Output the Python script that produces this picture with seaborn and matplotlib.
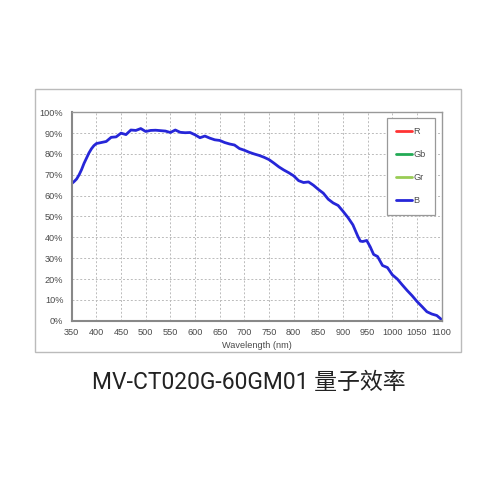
import matplotlib
matplotlib.use("Agg")
import matplotlib.pyplot as plt
from matplotlib.lines import Line2D
from matplotlib.patches import Rectangle
from matplotlib.ticker import FuncFormatter
import seaborn as sns
import pandas as pd

wavelength = [350, 355, 360, 365, 370, 375, 380, 385, 390, 395, 400, 410, 420, 430, 440,
              450, 460, 470, 480, 490, 500, 510, 520, 530, 540, 550, 560, 570, 580, 590,
              600, 610, 620, 630, 640, 650, 660, 670, 680, 690, 700, 710, 720, 730, 740,
              750, 760, 770, 780, 790, 800, 810, 820, 830, 840, 850, 860, 870, 880, 890,
              900, 910, 920, 930, 935, 940, 948, 955, 962, 970, 980, 990, 1000, 1010,
              1020, 1030, 1040, 1050, 1060, 1070, 1080, 1090, 1100]
qe_b = [65.8, 66.8, 68.0, 70.0, 72.5, 75.5, 78.0, 80.5, 82.5, 84.0, 85.0, 85.5, 86.0, 88.0, 88.2,
        90.0, 89.3, 91.5, 91.3, 92.2, 90.8, 91.3, 91.4, 91.2, 91.0, 90.3, 91.5, 90.4, 90.2, 90.3,
        89.2, 87.8, 88.6, 87.6, 86.8, 86.5, 85.5, 84.8, 84.3, 82.6, 81.8, 80.8, 80.0, 79.3, 78.4,
        77.3, 75.6, 73.8, 72.3, 71.0, 69.5, 67.2, 66.3, 66.6, 65.0, 63.0, 61.2, 58.3, 56.5, 55.3,
        52.5, 49.5, 46.0, 40.5, 38.2, 38.0, 38.5, 35.5, 31.8, 30.8, 26.5, 25.5, 22.0, 20.0,
        17.2, 14.5, 12.0, 9.2, 6.8, 4.3, 3.2, 2.5, 0.5]

legend_labels = ["R", "Gb", "Gr", "B"]
legend_colors = ["#ff3333", "#22aa55", "#99cc55", "#2626d8"]
x_ticks = list(range(350, 1101, 50))
y_ticks = list(range(0, 101, 10))
title = "MV-CT020G-60GM01 量子效率"
x_label = "Wavelength (nm)"

sns.set_theme(style="white")
plt.rcParams['font.family'] = ['Liberation Sans', 'DejaVu Sans']

fig = plt.figure(figsize=(5, 5), dpi=100)
fig.patch.set_facecolor("white")
ax = fig.add_axes([71.7 / 500, 1 - 320.7 / 500, 370 / 500, 208.4 / 500])

df = pd.DataFrame({"wavelength": wavelength, "qe": qe_b})
sns.lineplot(data=df, x="wavelength", y="qe", ax=ax, color=legend_colors[3], lw=2.0)

ax.set_xlim(350, 1100)
ax.set_ylim(0, 100)
ax.set_xticks(x_ticks)
ax.set_yticks(y_ticks)
ax.yaxis.set_major_formatter(FuncFormatter(lambda v, p: f"{int(v)}%"))
ax.tick_params(axis="both", length=0, labelsize=6.6, labelcolor="#4a4a4a")
ax.tick_params(axis="y", pad=6)
ax.tick_params(axis="x", pad=5)
ax.set_ylabel("")
ax.set_xlabel(x_label, fontsize=6.6, color="#4a4a4a", labelpad=3)
ax.grid(True, color="#bbbbbb", linestyle=(0, (2, 2)), linewidth=0.7)
for s in ["top", "right"]:
    ax.spines[s].set_color("#999999")
    ax.spines[s].set_linewidth(1.0)
for s in ["left", "bottom"]:
    ax.spines[s].set_color("#888888")
    ax.spines[s].set_linewidth(1.5)

handles = [Line2D([0], [0], color=c, lw=2) for c in legend_colors]
leg = ax.legend(handles, legend_labels, loc="upper right",
                bbox_to_anchor=(434.7 / 500, 1 - 117.7 / 500), bbox_transform=fig.transFigure,
                borderaxespad=0, fontsize=6.6, labelspacing=1.55, handlelength=1.8,
                handletextpad=0.1, borderpad=1.0, fancybox=False, framealpha=1,
                edgecolor="#999999", labelcolor="#4a4a4a")
leg.get_frame().set_linewidth(0.9)

fig.add_artist(Rectangle((35.3 / 500, 1 - 351.7 / 500), 425.4 / 500, 262.4 / 500,
                         transform=fig.transFigure, fill=False, edgecolor="#bbbbbb", lw=1.0))

fig.text(248.5 / 500, 1 - 382.5 / 500, title, ha="center", va="center", fontsize=16.5,
         color="#222222", family=["Roboto", "Noto Sans CJK SC", "DejaVu Sans"])

fig.savefig("out.png", dpi=100)
